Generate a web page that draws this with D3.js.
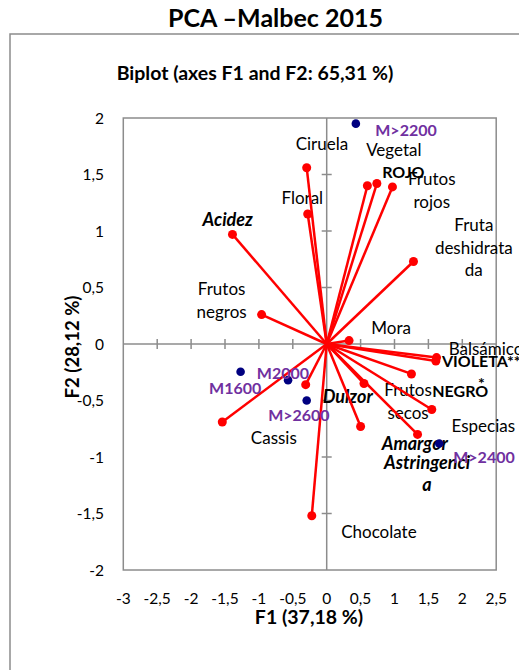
<!DOCTYPE html>
<html>
<head>
<meta charset="utf-8">
<script src="https://cdn.jsdelivr.net/npm/d3@7"></script>
<style>
  html, body { margin: 0; padding: 0; background: #fff; overflow: hidden; }
  svg { display: block; font-family: Lato, "Open Sans", sans-serif; }
</style>
</head>
<body>
<svg id="chart" width="519" height="670"></svg>
<script>
// ---- Data ----
const varNames   = ["Ciruela","Floral","Acidez","Frutos negros","Vegetal","ROJO","Frutos rojos","Fruta deshidratada","Mora","Balsámico","VIOLETA***","NEGRO","Frutos secos","Especias","Amargor","Astringencia","Dulzor","Cassis","Chocolate"];
const varF1      = [-0.295,-0.28,-1.39,-0.96,0.60,0.74,0.97,1.28,0.33,1.62,1.61,1.25,0.55,1.55,0.50,1.34,-0.31,-1.54,-0.22];
const varF2      = [1.56,1.15,0.97,0.26,1.40,1.42,1.39,0.73,0.03,-0.12,-0.15,-0.265,-0.35,-0.58,-0.73,-0.80,-0.36,-0.69,-1.52];
// label text lines (as wrapped in the reference) and label anchor in F1/F2 units
const varLabelLines = [["Ciruela"],["Floral"],["Acidez"],["Frutos","negros"],["Vegetal"],["ROJO"],["Frutos","rojos"],["Fruta","deshidrata","da"],["Mora"],["Balsámico"],["VIOLETA**","*"],["NEGRO"],["Frutos","secos"],["Especias"],["Amargor"],["Astringenci","a"],["Dulzor"],["Cassis"],["Chocolate"]];
const varLabelF1 = [-0.07,-0.36,-1.46,-1.55,0.99,1.13,1.55,2.17,0.95,2.35,2.28,1.97,1.20,2.31,1.30,1.48,0.31,-0.78,0.77];
const varLabelF2 = [1.77,1.29,1.10,0.385,1.72,1.52,1.36,0.85,0.144,-0.044,-0.25,-0.42,-0.51,-0.73,-0.88,-1.146,-0.466,-0.83,-1.66];
const varLabelStyle = ["n","n","bi","n","n","b","n","n","n","n","b","b","n","n","bi","bi","bi","n","n"];

const obsNames = ["M>2200","M2000","M1600","M>2600","M>2400"];
const obsF1    = [0.43,-0.57,-1.27,-0.295,1.66];
const obsF2    = [1.95,-0.32,-0.245,-0.50,-0.88];
const obsLabelF1 = [1.17,-0.645,-1.35,-0.41,2.32];
const obsLabelF2 = [1.89,-0.257,-0.39,-0.63,-1.0];

const xTicks = [-3,-2.5,-2,-1.5,-1,-0.5,0,0.5,1,1.5,2,2.5];
const yTicks = [-2,-1.5,-1,-0.5,0,0.5,1,1.5,2];

const mainTitle = "PCA \u2013Malbec 2015";
const subTitle  = "Biplot (axes F1 and F2: 65,31 %)";
const xTitle    = "F1 (37,18 %)";
const yTitle    = "F2 (28,12 %)";

// ---- Drawing ----
const svg = d3.select("#chart");
const gray = "#8c8c8c";
const red = "#ff0000";
const navy = "#000080";
const purple = "#7030a0";

const x = d3.scaleLinear().domain([-3, 2.5]).range([123.3, 496.2]);
const y = d3.scaleLinear().domain([-2, 2]).range([570, 118]);
const fmt = v => String(v).replace(".", ",");

// outer chart border
svg.append("rect").attr("x", 10).attr("y", 34).attr("width", 700).attr("height", 800)
  .attr("fill", "none").attr("stroke", gray).attr("stroke-width", 1.5);

// titles
svg.append("text").attr("x", 275.5).attr("y", 27).attr("text-anchor", "middle")
  .attr("font-weight", "bold").attr("font-size", 25).attr("fill", "#000").text(mainTitle);
svg.append("text").attr("x", 255).attr("y", 80).attr("text-anchor", "middle")
  .attr("font-weight", "bold").attr("font-size", 19.5).attr("fill", "#000").text(subTitle);

// plot frame
svg.append("rect").attr("x", x(-3)).attr("y", y(2)).attr("width", x(2.5) - x(-3)).attr("height", y(-2) - y(2))
  .attr("fill", "none").attr("stroke", gray).attr("stroke-width", 1.5);

// zero axes
svg.append("line").attr("x1", x(-3)).attr("x2", x(2.5)).attr("y1", y(0)).attr("y2", y(0))
  .attr("stroke", gray).attr("stroke-width", 1.5);
svg.append("line").attr("x1", x(0)).attr("x2", x(0)).attr("y1", y(-2)).attr("y2", y(2))
  .attr("stroke", gray).attr("stroke-width", 1.5);
// crossing ticks
svg.append("g").selectAll("line").data(xTicks.filter(t => t > -3 && t < 2.5 && t !== 0)).join("line")
  .attr("x1", d => x(d)).attr("x2", d => x(d)).attr("y1", y(0) - 5).attr("y2", y(0) + 5)
  .attr("stroke", gray).attr("stroke-width", 1.5);
svg.append("g").selectAll("line").data(yTicks.filter(t => t > -2 && t < 2 && t !== 0)).join("line")
  .attr("x1", x(0) - 5).attr("x2", x(0) + 5).attr("y1", d => y(d)).attr("y2", d => y(d))
  .attr("stroke", gray).attr("stroke-width", 1.5);

// tick labels
svg.append("g").selectAll("text").data(xTicks).join("text")
  .attr("x", d => x(d)).attr("y", 604).attr("text-anchor", "middle")
  .attr("font-size", 15.5).attr("fill", "#000").text(fmt);
svg.append("g").selectAll("text").data(yTicks).join("text")
  .attr("x", 104).attr("y", d => y(d) + 5.5).attr("text-anchor", "end")
  .attr("font-size", 15.5).attr("fill", "#000").text(fmt);

// axis titles
svg.append("text").attr("x", 309).attr("y", 623.5).attr("text-anchor", "middle")
  .attr("font-weight", "bold").attr("font-size", 19.5).attr("fill", "#000").text(xTitle);
svg.append("text").attr("transform", "translate(79,347) rotate(-90)")
  .attr("text-anchor", "middle").attr("font-weight", "bold").attr("font-size", 18.5).attr("fill", "#000").text(yTitle);

// vectors
const vars = varNames.map((n, i) => ({ n, f1: varF1[i], f2: varF2[i], lines: varLabelLines[i],
  lx: varLabelF1[i], ly: varLabelF2[i], st: varLabelStyle[i] }));
const obs = obsNames.map((n, i) => ({ n, f1: obsF1[i], f2: obsF2[i], lx: obsLabelF1[i], ly: obsLabelF2[i] }));

// variable labels (drawn first, under marks)
const lineH = 22.5;
const fontFor = st => st === "bi" ? 18 : (st === "b" ? 16 : 17);
const vl = svg.append("g").selectAll("text").data(vars).join("text")
  .attr("text-anchor", "middle").attr("font-size", d => fontFor(d.st)).attr("fill", "#000")
  .attr("font-weight", d => d.st.includes("b") ? "bold" : "normal")
  .attr("font-style", d => d.st.includes("i") ? "italic" : "normal");
vl.each(function(d) {
  const t = d3.select(this);
  const n = d.lines.length;
  d.lines.forEach((s, k) => {
    t.append("tspan").attr("x", x(d.lx))
      .attr("y", y(d.ly) + (k - (n - 1) / 2) * lineH).attr("dy", "0.35em").text(s);
  });
});

svg.append("g").selectAll("line").data(vars).join("line")
  .attr("x1", x(0)).attr("y1", y(0)).attr("x2", d => x(d.f1)).attr("y2", d => y(d.f2))
  .attr("stroke", red).attr("stroke-width", 2.5);
svg.append("g").selectAll("circle").data(vars).join("circle")
  .attr("cx", d => x(d.f1)).attr("cy", d => y(d.f2)).attr("r", 4.5).attr("fill", red);

// observations
svg.append("g").selectAll("circle").data(obs).join("circle")
  .attr("cx", d => x(d.f1)).attr("cy", d => y(d.f2)).attr("r", 4.3).attr("fill", navy);
svg.append("g").selectAll("text").data(obs).join("text")
  .attr("x", d => x(d.lx)).attr("y", d => y(d.ly)).attr("dy", "0.35em").attr("text-anchor", "middle")
  .attr("font-size", 16).attr("font-weight", "bold").attr("fill", purple).text(d => d.n);
</script>
</body>
</html>
